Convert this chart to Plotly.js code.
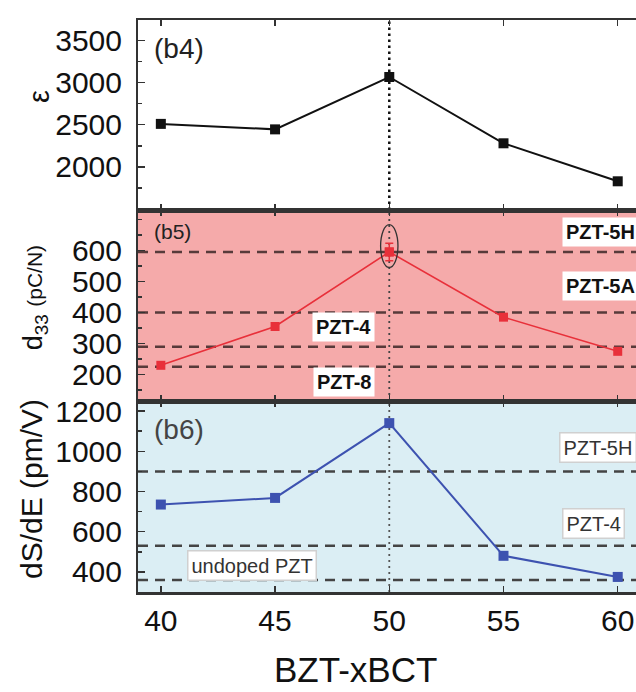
<!DOCTYPE html>
<html><head><meta charset="utf-8">
<script src="https://cdn.plot.ly/plotly-3.0.1.min.js"></script>
<style>html,body{margin:0;padding:0;background:#fff}</style>
</head><body>
<div id="chart" style="width:636px;height:692px"></div>
<script>
// ---- data ----
const bct = [40, 45, 50, 55, 60];
const epsilon = [2510, 2445, 3065, 2280, 1830];
const d33 = [230, 355, 595, 385, 275];
const d33Err = [0, 0, 28, 0, 0];
const dSdE = [735, 768, 1140, 480, 375];
const d33Refs = [595, 400, 290, 225];
const d33RefLabels = ['PZT-5H', 'PZT-5A', 'PZT-4', 'PZT-8'];
const d33LabelY = [659, 485, 353, 176];
const d33LabelX = [59.25, 59.25, 48, 48];
const strainRefs = [900, 530, 360];
const strainRefLabels = ['PZT-5H', 'PZT-4', 'undoped PZT'];
const strainLabelY = [1021, 643, 434];
const strainLabelX = [59.15, 58.95, 44.0];
const xTicks = [40, 45, 50, 55, 60];

const FONT = 'Liberation Sans, Arial, sans-serif';
const xr = [39, 60.8];
const yr1 = [1490, 3740], yr2 = [115, 730], yr3 = [300, 1250];
const dom3 = [0, 0.3339], dom2 = [0.3339, 0.6678], dom1 = [0.6678, 1];

const traces = [
  {x: bct, y: epsilon, xaxis: 'x', yaxis: 'y', mode: 'lines+markers',
   line: {color: '#111', width: 2}, marker: {symbol: 'square', size: 10, color: '#111'}},
  {x: bct, y: d33, xaxis: 'x2', yaxis: 'y2', mode: 'lines+markers',
   line: {color: '#e8303a', width: 1.6}, marker: {symbol: 'square', size: 9, color: '#e8303a'}},
  {x: [bct[2]], y: [d33[2]], xaxis: 'x2', yaxis: 'y2', mode: 'markers',
   error_y: {type: 'data', array: [d33Err[2]], color: '#e8303a', thickness: 1.5, width: 4},
   marker: {symbol: 'square', size: 9, color: '#e8303a'}},
  {x: bct, y: dSdE, xaxis: 'x3', yaxis: 'y3', mode: 'lines+markers',
   line: {color: '#3d52b0', width: 2}, marker: {symbol: 'square', size: 10, color: '#3d52b0'}}
];

function xax(anchor, showLabels) {
  return {anchor: anchor, range: xr, tickvals: xTicks, ticks: 'inside', ticklen: 6, tickwidth: 1.5,
    tickcolor: '#333', showline: true, linecolor: '#333', linewidth: 2.5, mirror: 'allticks',
    showgrid: false, zeroline: false, showticklabels: showLabels,
    tickfont: {family: FONT, size: 30, color: '#111'}, ticklabelstandoff: 0};
}
function yax(domain, range, minorDtick, tickvals) {
  return {domain: domain, range: range, tickvals: tickvals, ticks: 'inside', ticklen: 7, tickwidth: 1.5,
    tickcolor: '#333', showline: true, linecolor: '#333', linewidth: 2, showgrid: false, zeroline: false,
    minor: {dtick: minorDtick, ticks: 'inside', ticklen: 4, tickcolor: '#333', showgrid: false},
    tickfont: {family: FONT, size: 30, color: '#111'}, ticklabelstandoff: 8};
}

const shapes = [
  {type: 'rect', xref: 'x2 domain', yref: 'y2 domain', x0: 0, x1: 1, y0: 0, y1: 1,
   fillcolor: '#f5aaaa', line: {width: 0}, layer: 'below'},
  {type: 'rect', xref: 'x3 domain', yref: 'y3 domain', x0: 0, x1: 1, y0: 0, y1: 1,
   fillcolor: '#dbeef4', line: {width: 0}, layer: 'below'},
  {type: 'line', xref: 'x', yref: 'y domain', x0: bct[2], x1: bct[2], y0: 0, y1: 1,
   line: {color: '#111', width: 2.5, dash: '2.5px,3.5px'}, layer: 'below'},
  {type: 'line', xref: 'x2', yref: 'y2 domain', x0: bct[2], x1: bct[2], y0: 0, y1: 1,
   line: {color: '#444', width: 1.8, dash: '2px,4px'}, layer: 'below'},
  {type: 'line', xref: 'x3', yref: 'y3 domain', x0: bct[2], x1: bct[2], y0: 0, y1: 1,
   line: {color: '#555', width: 1.8, dash: '2px,4px'}, layer: 'below'},
  {type: 'circle', xref: 'x2', yref: 'y2', x0: bct[2] - 0.38, x1: bct[2] + 0.38,
   y0: d33[2] - 50, y1: d33[2] + 88, line: {color: '#333', width: 1.3}}
];
d33Refs.forEach(v => shapes.push({type: 'line', xref: 'x2 domain', yref: 'y2', x0: 0, x1: 1, y0: v, y1: v,
  line: {color: 'rgba(70,45,45,0.9)', width: 2.5, dash: '10px,7px'}, layer: 'below'}));
strainRefs.forEach(v => shapes.push({type: 'line', xref: 'x3 domain', yref: 'y3', x0: 0, x1: 1, y0: v, y1: v,
  line: {color: '#444', width: 2.5, dash: '10px,7px'}, layer: 'below'}));

const annotations = [
  {text: '(b4)', xref: 'x', yref: 'y', x: 39.6, y: 3397, xanchor: 'left', yanchor: 'middle', showarrow: false,
   font: {family: FONT, size: 28, color: '#222'}},
  {text: '(b5)', xref: 'x2', yref: 'y2', x: 39.6, y: 662, xanchor: 'left', yanchor: 'middle', showarrow: false,
   font: {family: FONT, size: 21, color: '#222'}},
  {text: '(b6)', xref: 'x3', yref: 'y3', x: 39.6, y: 1106, xanchor: 'left', yanchor: 'middle', showarrow: false,
   font: {family: FONT, size: 28, color: '#444'}},
  {text: 'ε', xref: 'paper', yref: 'paper', x: -0.2, y: 0.866, xanchor: 'center', yanchor: 'middle', textangle: -90,
   showarrow: false, font: {family: FONT, size: 29, color: '#111'}},
  {text: 'd<sub>33</sub> <span style="font-size:21px">(pC/N)</span>', xref: 'paper', yref: 'paper', x: -0.205, y: 0.515,
   xanchor: 'center', yanchor: 'middle', textangle: -90, showarrow: false, font: {family: FONT, size: 27, color: '#111'}},
  {text: 'dS/dE (pm/V)', xref: 'paper', yref: 'paper', x: -0.215, y: 0.18, xanchor: 'center', yanchor: 'middle',
   textangle: -90, showarrow: false, font: {family: FONT, size: 30, color: '#111'}},
  {text: 'BZT-xBCT', xref: 'paper', yref: 'paper', x: 0.437, y: -0.136, xanchor: 'center', yanchor: 'middle',
   showarrow: false, font: {family: FONT, size: 35, color: '#111'}}
];
d33RefLabels.forEach((t, i) => annotations.push({text: '<b>' + t + '</b>', xref: 'x2', yref: 'y2',
  x: d33LabelX[i], y: d33LabelY[i], showarrow: false, bgcolor: '#fff', borderpad: 3,
  font: {family: FONT, size: 20, color: '#111'}}));
strainRefLabels.forEach((t, i) => annotations.push({text: t, xref: 'x3', yref: 'y3',
  x: strainLabelX[i], y: strainLabelY[i], showarrow: false, bgcolor: '#fff', bordercolor: '#d0d0d0',
  borderwidth: 1.5, borderpad: 3, font: {family: FONT, size: 20, color: '#333'}}));

const layout = {
  width: 636, height: 692, margin: {l: 138, r: 0, t: 20, b: 100},
  paper_bgcolor: '#fff', plot_bgcolor: '#fff', showlegend: false,
  xaxis: xax('y', false), xaxis2: xax('y2', false), xaxis3: xax('y3', true),
  yaxis: yax(dom1, yr1, 250, [2000, 2500, 3000, 3500]),
  yaxis2: yax(dom2, yr2, 50, [200, 300, 400, 500, 600]),
  yaxis3: yax(dom3, yr3, 100, [400, 600, 800, 1000, 1200]),
  shapes: shapes, annotations: annotations
};
Plotly.newPlot('chart', traces, layout, {displayModeBar: false, staticPlot: true});
</script>
</body></html>
